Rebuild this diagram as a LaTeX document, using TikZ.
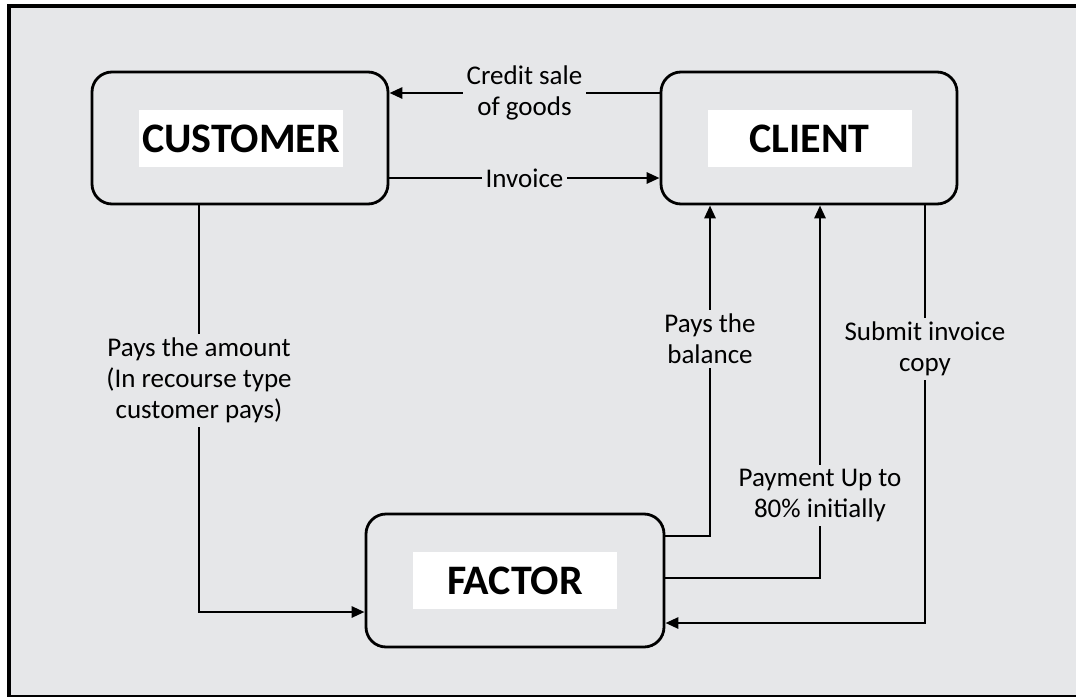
\documentclass[tikz,border=0pt]{standalone}
\usepackage{fontspec}
\setmainfont{Carlito}
\usetikzlibrary{arrows.meta}
\definecolor{panelgray}{HTML}{E6E7E9}
\begin{document}
\begin{tikzpicture}[x=0.5pt,y=-0.5pt,
  font=\fontsize{13.5}{15.5}\selectfont,
  party/.style={draw, line width=1.4pt, rounded corners=10pt, minimum width=148pt, minimum height=66pt},
  tag/.style={fill=white, minimum width=102pt, minimum height=28.5pt, inner sep=0pt, font=\fontsize{21}{24}\selectfont\bfseries},
  flow/.style={line width=1.4pt, -{Triangle[length=6.5pt,width=5.5pt]}},
  lbl/.style={fill=panelgray, align=center, inner sep=2pt}]
\useasboundingbox (0,0) rectangle (1076,696);
% frame
\begin{scope}
  \clip (0,0) rectangle (1076,696);
  \draw[fill=panelgray, line width=2pt] (9,6.3) rectangle (1100,697);
\end{scope}

% the three parties
\node[party] (customer) at (240,138) {};
\node[party] (client) at (809,138) {};
\node[party, minimum width=149pt, minimum height=66.5pt] (factor) at (515,580.5) {};
\node[tag] (customertag) at (241,138.5) {CUSTOMER};
\node[tag] (clienttag) at (809.5,138.5) {CLIENT};
\node[tag] (factortag) at (515,580.5) {FACTOR};

% flows between them
\draw[flow] ([yshift=22.5pt]client.west) -- node[lbl] (sale) {Credit sale\\of goods} ([yshift=22.5pt]customer.east);
\draw[flow] ([yshift=-20pt]customer.east) -- node[lbl] (invoice) {Invoice} ([yshift=-20pt]client.west);
\draw[flow] ([xshift=-20.5pt]customer.south) |- node[lbl, pos=0.215] (amount) {Pays the amount\\(In recourse type\\customer pays)} ([yshift=-15.75pt]factor.west);
\draw[flow] ([yshift=22.25pt]factor.east) -| node[lbl, pos=0.798] (balance) {Pays the\\balance} ([xshift=-49.5pt]client.south);
\draw[flow] ([yshift=1.25pt]factor.east) -| node[lbl, pos=0.611] (advance) {Payment Up to\\80\% initially} ([xshift=5.5pt]client.south);
\draw[flow] ([xshift=58pt]client.south) |- node[lbl, pos=0.172] (copy) {Submit invoice\\copy} ([yshift=-21.25pt]factor.east);
\end{tikzpicture}
\end{document}
